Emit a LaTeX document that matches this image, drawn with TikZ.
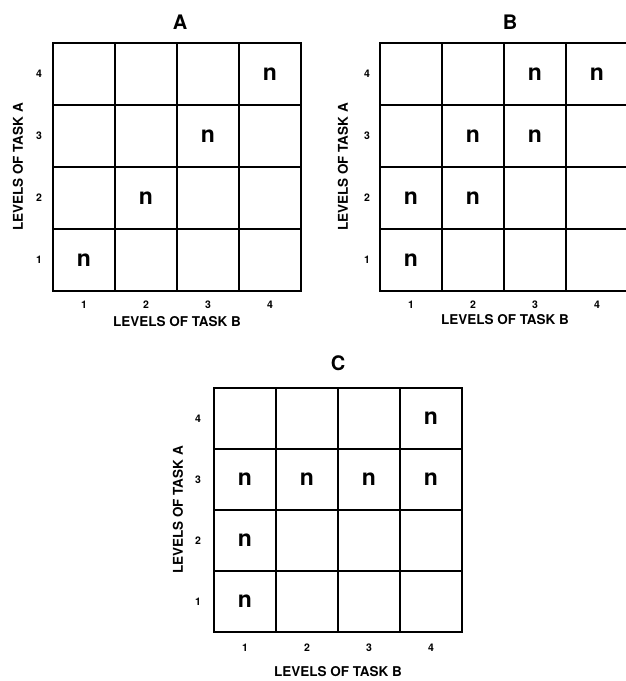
\documentclass[tikz,border=0pt]{standalone}
\usepackage{fontspec}
\setmainfont{TeX Gyre Heros}
\usetikzlibrary{positioning}

\begin{document}
\begin{tikzpicture}[x=1pt,y=-1pt,
      gridline/.style={line width=1.8pt},
      paneltitle/.style={font=\bfseries\fontsize{20}{20}\selectfont},
      levelnum/.style={font=\bfseries\fontsize{10.5}{10.5}\selectfont},
      axislabel/.style={font=\bfseries\fontsize{13.5}{13.5}\selectfont},
      cellmark/.style={font=\bfseries\fontsize{23}{23}\selectfont}]
    \useasboundingbox (0,0) rectangle (626,681);
    \clip (0,0) rectangle (626,681);
    % panel A
    \begin{scope}[shift={(53,43)}]
      \draw[gridline] (0,0) rectangle (248,248);
      \foreach \k in {1,2,3} {
        \draw[gridline] (62*\k,0) -- (62*\k,248);
        \draw[gridline] (0,62*\k) -- (248,62*\k);
      }
      \foreach \k in {1,...,4} {
        \node[levelnum] (A-col\k) at (62*\k-31,262) {\k};
        \node[levelnum] (A-row\k) at (-14,279-62*\k) {\k};
      }
      \foreach \c/\r in {1/1,2/2,3/3,4/4}
        \node[cellmark] (A-n\c\r) at (62*\c-31,279-62*\r) {n};
      \node[paneltitle] (A-title) at (127,-21) {A};
      \node[axislabel] (A-xlabel) at (124,279) {LEVELS OF TASK B};
      \node[axislabel,rotate=90] (A-ylabel) at (-35,124) {LEVELS OF TASK A};
    \end{scope}
    % panel B
    \begin{scope}[shift={(380,43)}]
      \draw[gridline] (0,0) rectangle (248,248);
      \foreach \k in {1,2,3} {
        \draw[gridline] (62*\k,0) -- (62*\k,248);
        \draw[gridline] (0,62*\k) -- (248,62*\k);
      }
      \foreach \k in {1,...,4} {
        \node[levelnum] (B-col\k) at (62*\k-31,262) {\k};
        \node[levelnum] (B-row\k) at (-13,279-62*\k) {\k};
      }
      \foreach \c/\r in {1/1,1/2,2/2,2/3,3/3,3/4,4/4}
        \node[cellmark] (B-n\c\r) at (62*\c-31,279-62*\r) {n};
      \node[paneltitle] (B-title) at (130,-21) {B};
      \node[axislabel] (B-xlabel) at (125,277) {LEVELS OF TASK B};
      \node[axislabel,rotate=90] (B-ylabel) at (-37,124) {LEVELS OF TASK A};
    \end{scope}
    % panel C
    \begin{scope}[shift={(214,388)}]
      \draw[gridline] (0,0) rectangle (248,244);
      \foreach \k in {1,2,3} {
        \draw[gridline] (62*\k,0) -- (62*\k,244);
        \draw[gridline] (0,61*\k) -- (248,61*\k);
      }
      \foreach \k in {1,...,4} {
        \node[levelnum] (C-col\k) at (62*\k-31,260) {\k};
        \node[levelnum] (C-row\k) at (-16,274.5-61*\k) {\k};
      }
      \foreach \c/\r in {1/1,1/2,1/3,2/3,3/3,4/3,4/4}
        \node[cellmark] (C-n\c\r) at (62*\c-31,274.5-61*\r) {n};
      \node[paneltitle] (C-title) at (124,-25) {C};
      \node[axislabel] (C-xlabel) at (124,284) {LEVELS OF TASK B};
      \node[axislabel,rotate=90] (C-ylabel) at (-36,122) {LEVELS OF TASK A};
    \end{scope}
\end{tikzpicture}
\end{document}
